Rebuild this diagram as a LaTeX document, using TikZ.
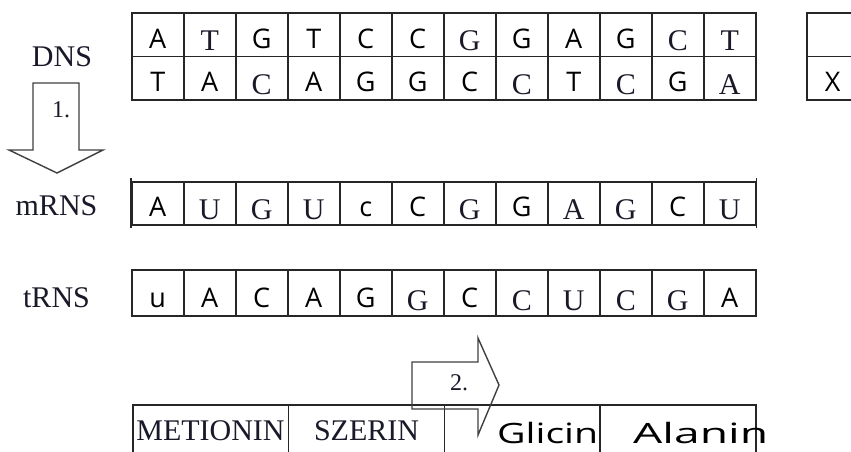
\documentclass[tikz,border=0pt]{standalone}
\usepackage{fontspec}
\usepackage{graphicx}
\setmainfont{Liberation Serif}
\newfontfamily\handfont{Open Sans}
\definecolor{ink}{rgb}{0.10,0.10,0.16}
\definecolor{linec}{rgb}{0.15,0.15,0.15}
\definecolor{arrc}{rgb}{0.25,0.25,0.25}
\newcommand\prx[1]{{\color{ink}\fontsize{30}{36}\selectfont #1}}
\newcommand\hwx[1]{\raisebox{2.5pt}{\color{black}\handfont\fontsize{27}{32}\selectfont #1}}
\begin{document}
\begin{tikzpicture}[x=1pt,y=-1pt,
  cell/.style={draw=linec, line width=1.5pt, minimum width=52pt, minimum height=43.5pt, inner sep=0pt, anchor=north west},
  wcell/.style={draw=linec, line width=1.5pt, minimum width=155.75pt, minimum height=80pt, inner sep=0pt, anchor=north west},
  lab/.style={anchor=base, yshift=6.5pt, inner sep=0pt},
  rowlab/.style={anchor=base, inner sep=0pt, text=ink, font=\fontsize{30}{36}\selectfont},
  numlab/.style={anchor=center, inner sep=0pt, text=ink, font=\fontsize{24}{28}\selectfont},
  bigarrow/.style={draw=arrc, line width=1.4pt, line join=miter},
  handword/.style={anchor=base west, inner sep=0pt, text=black, font=\handfont\fontsize{28}{32}\selectfont}]
\useasboundingbox (0,0) rectangle (851,451);
\fill[white] (0,0) rectangle (851,451);

% DNS table
\foreach \l [count=\i from 0] in {\hwx{A},\prx{T},\hwx{G},\hwx{T},\hwx{C},\hwx{C},\prx{G},\hwx{G},\hwx{A},\hwx{G},\prx{C},\prx{T}} {
  \node[cell] (da\i) at (131+52*\i,12) {};
  \node[lab] (ta\i) at (da\i.south) {\l};
}
\foreach \l [count=\i from 0] in {\hwx{T},\hwx{A},\prx{C},\hwx{A},\hwx{G},\hwx{G},\hwx{C},\prx{C},\hwx{T},\prx{C},\hwx{G},\prx{A}} {
  \node[cell] (db\i) at (131+52*\i,55.5) {};
  \node[lab] (tb\i) at (db\i.south) {\l};
}
% partial box on the right
\node[cell] (xa) at (806,12) {};
\node[cell] (xb) at (806,55.5) {};
\node[lab] (xt) at (xb.south) {\hwx{X}};

% mRNS
\foreach \l [count=\i from 0] in {\hwx{A},\prx{U},\prx{G},\prx{U},\hwx{c},\hwx{C},\prx{G},\hwx{G},\prx{A},\prx{G},\hwx{C},\prx{U}} {
  \node[cell, minimum height=43pt] (m\i) at (131+52*\i,181) {};
  \node[lab] (tm\i) at (m\i.south) {\l};
}
\draw[linec, line width=1.5pt] (m0.north west) ++(0,-3) -- ([yshift=-2pt]m0.south west);
\draw[linec, line width=1.5pt] (m11.north east) ++(0,-3) -- ([yshift=-2pt]m11.south east);

% tRNS
\foreach \l [count=\i from 0] in {\hwx{u},\hwx{A},\hwx{C},\hwx{A},\hwx{G},\prx{G},\hwx{C},\prx{C},\prx{U},\prx{C},\prx{G},\hwx{A}} {
  \node[cell, minimum height=46pt] (r\i) at (131+52*\i,269) {};
  \node[lab] (tr\i) at (r\i.south) {\l};
}

% row labels
\node[rowlab] (dns) at (62,66) {DNS};
\node[rowlab] (mrns) at (56.5,215) {mRNS};
\node[rowlab] (trns) at (56.5,307) {tRNS};

% arrow 1
\draw[bigarrow] (33,83) -- (79,83) -- (79,150) -- (103,150) -- (57,173) -- (9,150) -- (33,150) -- cycle;
\node[numlab] (n1) at (61,110) {1.};

% bottom table
\foreach \i in {0,1,2,3} {
  \node[wcell] (b\i) at (132+155.75*\i,404) {};
}
\node[rowlab] (met) at (210.5,440) {METIONIN};
\node[rowlab] (sze) at (366.5,440) {SZERIN};
\node[handword] (gli) at (497,443) {\scalebox{1.4}[1]{Glicin}};
\node[handword] (ala) at (633,443) {\scalebox{1.65}[1]{Alanin}};

% arrow 2
\draw[bigarrow] (412,362) -- (478,362) -- (478,338) -- (499,385) -- (478,435) -- (478,409) -- (412,409) -- cycle;
\node[numlab] (n2) at (459,383) {2.};
\end{tikzpicture}
\end{document}
